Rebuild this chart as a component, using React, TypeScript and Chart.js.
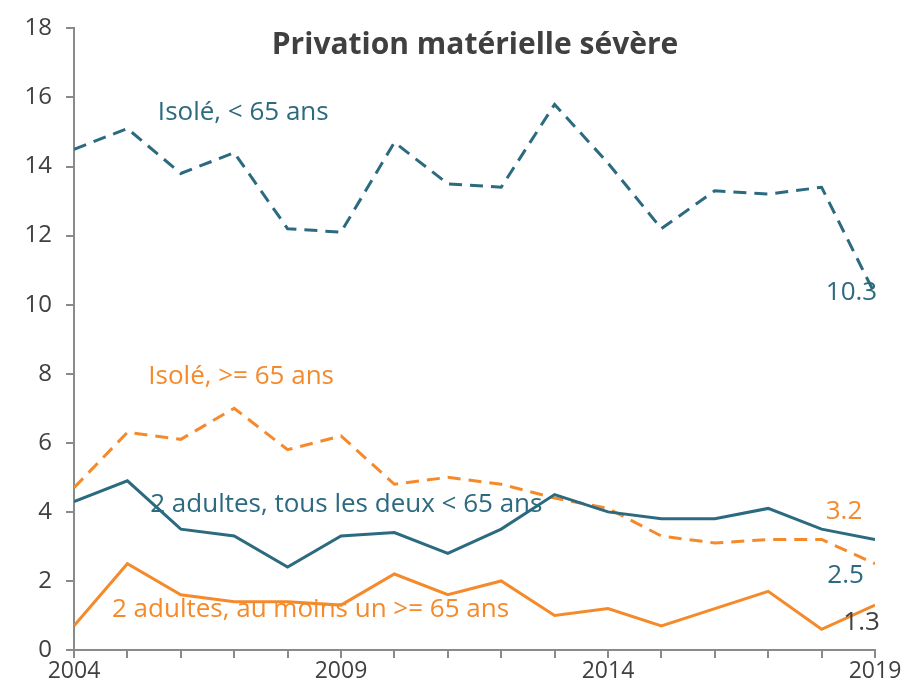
import React, { useEffect, useRef } from "react";
import { Chart, registerables } from "chart.js";

Chart.register(...registerables);

const years = [2004, 2005, 2006, 2007, 2008, 2009, 2010, 2011, 2012, 2013, 2014, 2015, 2016, 2017, 2018, 2019];
const isoleMoins65 = [14.5, 15.1, 13.8, 14.4, 12.2, 12.1, 14.7, 13.5, 13.4, 15.8, 14.1, 12.2, 13.3, 13.2, 13.4, 10.3];
const isolePlus65 = [4.7, 6.3, 6.1, 7.0, 5.8, 6.2, 4.8, 5.0, 4.8, 4.4, 4.1, 3.3, 3.1, 3.2, 3.2, 2.5];
const deuxAdultesMoins65 = [4.3, 4.9, 3.5, 3.3, 2.4, 3.3, 3.4, 2.8, 3.5, 4.5, 4.0, 3.8, 3.8, 4.1, 3.5, 3.2];
const deuxAdultesPlus65 = [0.7, 2.5, 1.6, 1.4, 1.4, 1.3, 2.2, 1.6, 2.0, 1.0, 1.2, 0.7, 1.2, 1.7, 0.6, 1.3];
const labeledYears = [2004, 2009, 2014, 2019];
const seriesNames = [
  "Isolé, < 65 ans",
  "Isolé, >= 65 ans",
  "2 adultes, tous les deux < 65 ans",
  "2 adultes, au moins un >= 65 ans",
];
const titleText = "Privation matérielle sévère";

const TEAL = "#2C6A80";
const ORANGE = "#F58A2B";
const GREY_TEXT = "#404040";
const AXIS = "#8A8A8A";
const FONT = "'Open Sans', sans-serif";

// annotation texts, placed in data coordinates (x = year, y = value)
const annotations = [
  { text: titleText, x: 2011.51, y: 17.5, color: GREY_TEXT, bold: true, size: 30 },
  { text: seriesNames[0], x: 2007.17, y: 15.56, color: TEAL, bold: false, size: 26 },
  { text: "10.3", x: 2018.56, y: 10.34, color: TEAL, bold: false, size: 26 },
  { text: seriesNames[1], x: 2007.13, y: 7.92, color: ORANGE, bold: false, size: 26 },
  { text: seriesNames[2], x: 2009.1, y: 4.22, color: TEAL, bold: false, size: 26 },
  { text: "3.2", x: 2018.42, y: 4.02, color: ORANGE, bold: false, size: 26 },
  { text: "2.5", x: 2018.45, y: 2.15, color: TEAL, bold: false, size: 26 },
  { text: seriesNames[3], x: 2008.43, y: 1.18, color: ORANGE, bold: false, size: 26 },
  { text: "1.3", x: 2018.75, y: 0.8, color: GREY_TEXT, bold: false, size: 26 },
];

const textPlugin = {
  id: "textAnnotations",
  afterDatasetsDraw(chart: any) {
    const ctx = chart.ctx;
    const xs = chart.scales.x;
    const ys = chart.scales.y;
    ctx.save();
    ctx.textAlign = "center";
    ctx.textBaseline = "middle";
    for (const a of annotations) {
      ctx.font = `${a.bold ? "bold " : ""}${a.size}px ${FONT}`;
      ctx.fillStyle = a.color;
      ctx.fillText(a.text, xs.getPixelForValue(a.x), ys.getPixelForValue(a.y));
    }
    ctx.restore();
  },
};

export default function App() {
  const ref = useRef<HTMLCanvasElement | null>(null);
  useEffect(() => {
    document.body.style.margin = "0";
    const canvas = ref.current;
    if (!canvas) return;
    const mk = (data: number[], color: string, dashed: boolean, label: string) => ({
      label,
      data: years.map((y, i) => ({ x: y, y: data[i] })),
      borderColor: color,
      backgroundColor: color,
      borderWidth: 3,
      borderDash: dashed ? [13, 8] : [],
      pointRadius: 0,
      tension: 0,
      fill: false,
    });
    const chart = new Chart(canvas, {
      type: "line",
      data: {
        datasets: [
          mk(deuxAdultesPlus65, ORANGE, false, seriesNames[3]),
          mk(deuxAdultesMoins65, TEAL, false, seriesNames[2]),
          mk(isolePlus65, ORANGE, true, seriesNames[1]),
          mk(isoleMoins65, TEAL, true, seriesNames[0]),
        ],
      },
      options: {
        animation: false,
        responsive: false,
        maintainAspectRatio: false,
        layout: { padding: { top: 23, right: 43, left: 0, bottom: 0 } },
        plugins: {
          legend: { display: false },
          title: { display: false },
          tooltip: { enabled: false },
        },
        scales: {
          x: {
            type: "linear",
            min: 2004,
            max: 2019,
            afterFit(scale: any) {
              scale.height = 37;
            },
            border: { display: true, color: AXIS, width: 2 },
            grid: { display: true, drawOnChartArea: false, drawTicks: true, tickLength: 8, color: AXIS, lineWidth: 2 },
            ticks: {
              stepSize: 1,
              autoSkip: false,
              maxRotation: 0,
              padding: 0,
              color: GREY_TEXT,
              font: { family: FONT, size: 23 },
              callback: (v: any) => (labeledYears.includes(Number(v)) ? String(v) : ""),
            },
          },
          y: {
            min: 0,
            max: 18,
            afterFit(scale: any) {
              scale.width = 74;
            },
            border: { display: true, color: AXIS, width: 2 },
            grid: { display: true, drawOnChartArea: false, drawTicks: true, tickLength: 8, color: AXIS, lineWidth: 2 },
            ticks: {
              stepSize: 2,
              padding: 14,
              color: GREY_TEXT,
              font: { family: FONT, size: 24 },
            },
          },
        },
      },
      plugins: [textPlugin],
    } as any);
    return () => chart.destroy();
  }, []);
  return (
    <div style={{ width: 918, height: 687 }}>
      <canvas ref={ref} width={918} height={687} style={{ display: "block" }} />
    </div>
  );
}
